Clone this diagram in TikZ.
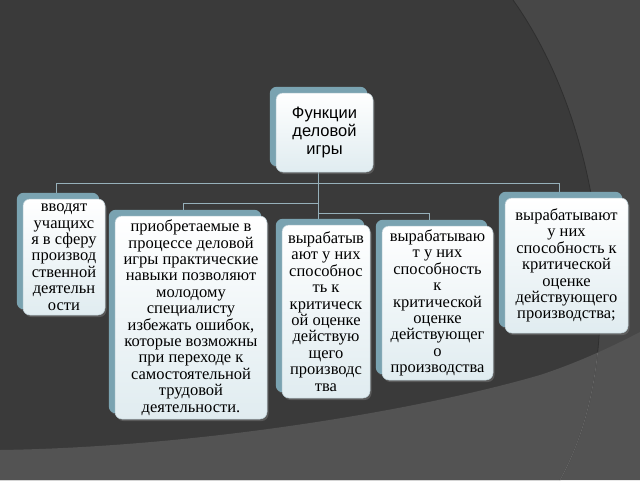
\documentclass[tikz,border=0pt]{standalone}
\usepackage{fontspec}
\setmainfont{Liberation Serif}
\newfontfamily\sansf{Liberation Sans}
\usetikzlibrary{shadows}
\definecolor{bgmid}{HTML}{474747}
\definecolor{bgdark}{HTML}{3A3A3A}
\definecolor{bglow}{HTML}{535353}
\definecolor{arcline}{HTML}{2F2F2F}
\definecolor{arclight}{HTML}{646464}
\definecolor{tealc}{RGB}{122,163,177}
\definecolor{boxbot}{RGB}{224,236,240}
\definecolor{boxedge}{RGB}{190,208,215}
\definecolor{connc}{RGB}{150,176,186}
\pgfdeclarelayer{deco}
\pgfdeclarelayer{back}
\pgfsetlayers{deco,back,main}
\begin{document}
\begin{tikzpicture}[x=1pt,y=-1pt,
  card/.style={rounded corners=7pt, top color=white, bottom color=boxbot,
    draw=boxedge, line width=0.5pt, inner sep=0pt, align=center, text=black,
    font=\fontsize{16.5}{16.4}\selectfont,
    drop shadow={shadow xshift=1.5pt, shadow yshift=-2pt, opacity=0.45}},
  conn/.style={draw=connc, line width=0.9pt},
  backing/.style={fill=tealc, rounded corners=7pt,
    drop shadow={shadow xshift=1pt, shadow yshift=-1.5pt, opacity=0.35}}]
\useasboundingbox (0,0) rectangle (640,480);
% background decoration
\begin{pgfonlayer}{deco}
\fill[bgmid] (0,0) rectangle (640,480);
\fill[bgdark] (0,0) -- (513,0) .. controls (570,80) and (605,200) .. (600,320)
  .. controls (597,390) and (582,440) .. (560,480) -- (0,480) -- cycle;
\fill[bglow] (0,450) .. controls (200,447) and (420,410) .. (540,375)
  .. controls (580,362) and (615,345) .. (640,332) -- (640,480) -- (0,480) -- cycle;
\draw[arcline, line width=0.8pt] (513,0) .. controls (570,80) and (605,200) .. (600,320)
  .. controls (597,390) and (582,440) .. (560,480);
\begin{scope}
\clip (0,450) .. controls (200,447) and (420,410) .. (540,375)
  .. controls (580,362) and (615,345) .. (640,332) -- (640,480) -- (0,480) -- cycle;
\draw[arclight, line width=0.8pt] (513,0) .. controls (570,80) and (605,200) .. (600,320)
  .. controls (597,390) and (582,440) .. (560,480);
\end{scope}
\end{pgfonlayer}
% boxes
\node[card, minimum width=97pt, minimum height=79pt,
  font=\sansf\fontsize{16.5}{18}\selectfont] (top) at (324.5,132.5) {Функции\\деловой\\игры};
\node[card, minimum width=82pt, minimum height=116pt] (b1) at (64,257)
  {вводят\\учащихс\\я в сферу\\производ\\ственной\\деятельн\\ости};
\node[card, minimum width=152pt, minimum height=203pt] (b2) at (191,317.5)
  {приобретаемые в\\процессе деловой\\игры практические\\навыки позволяют\\молодому\\специалисту\\избежать ошибок,\\которые возможны\\при переходе к\\самостоятельной\\трудовой\\деятельности.};
\node[card, minimum width=88pt, minimum height=173pt] (b3) at (326,311.5)
  {вырабатыв\\ают у них\\способнос\\ть к\\критическ\\ой оценке\\действую\\щего\\производс\\тва};
\node[card, minimum width=111pt, minimum height=154pt] (b4) at (437.5,303)
  {вырабатываю\\т у них\\способность\\к\\критической\\оценке\\действующег\\о\\производства};
\node[card, minimum width=123pt, minimum height=135pt] (b5) at (566.5,265.5)
  {вырабатывают\\у них\\способность к\\критической\\оценке\\действующего\\производства;};
% teal backings
\begin{pgfonlayer}{back}
\foreach \n in {top,b1,b2,b3,b4,b5}
  \fill[backing] ([shift={(-6pt,6pt)}]\n.north west) rectangle ([shift={(-6pt,6pt)}]\n.south east);
\end{pgfonlayer}
% connectors
\coordinate (busA) at (0,183);
\coordinate (busB) at (0,203);
\coordinate (busC) at (0,213);
\begin{pgfonlayer}{deco}
\draw[conn] ([xshift=-6.5pt]top.south) -- ([xshift=-8pt]b3.north);
\draw[conn] ([xshift=-8pt]b1.north) |- ([xshift=-7.5pt]b5.north |- busA) -- ([xshift=-7.5pt]b5.north);
\draw[conn] ([xshift=-8pt]b2.north) |- ([xshift=-6.5pt]top.south |- busB);
\draw[conn] ([xshift=-8pt]b4.north) |- ([xshift=-6.5pt]top.south |- busC);
\end{pgfonlayer}
\end{tikzpicture}
\end{document}
